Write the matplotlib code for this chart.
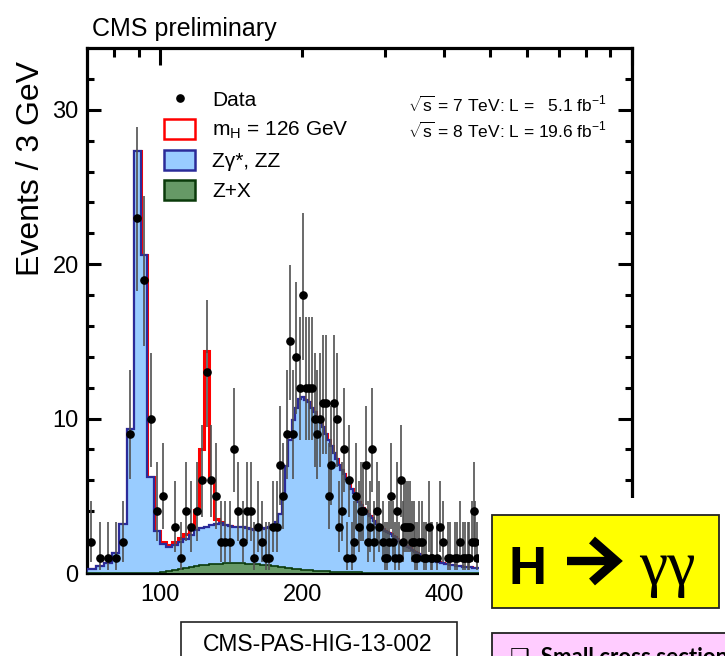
import numpy as np
import matplotlib
matplotlib.use('Agg')
import matplotlib.pyplot as plt
from matplotlib import font_manager as fm
from matplotlib.patches import Rectangle, Patch
from matplotlib.lines import Line2D
from matplotlib.ticker import FixedLocator, FuncFormatter, NullFormatter

# ---------------- data ----------------
bin_low = 70
bin_high = 478
bin_width = 3
mass_edges = np.arange(bin_low, bin_high + 1, bin_width)

data_counts = [
    2, 1, 1, 1, 2, 9, 23, 19, 10, 4,
    5, 0, 3, 1, 4, 3, 4, 6, 13, 6,
    5, 2, 2, 2, 8, 4, 2, 4, 4, 1,
    3, 2, 1, 1, 3, 3, 7, 5, 9, 15,
    9, 14, 12, 18, 12, 12, 12, 10, 9, 10,
    11, 11, 5, 7, 11, 10, 3, 4, 8, 1,
    6, 1, 2, 5, 3, 4, 4, 7, 2, 3,
    8, 2, 4, 3, 0, 2, 1, 1, 2, 5,
    2, 1, 4, 1, 6, 2, 3, 3, 3, 3,
    2, 2, 1, 1, 2, 0, 2, 1, 1, 0,
    3, 1, 1, 0, 0, 1, 0, 3, 0, 2,
    0, 0, 1, 1, 0, 0, 0, 1, 1, 0,
    2, 0, 1, 0, 1, 0, 1, 1, 0, 2,
    4, 2, 0, 1, 0, 0,
]

bkg_total = [
    0.28, 0.45, 0.65, 1.3, 3.2, 9.3, 27.3, 20.6, 6.2, 2.7,
    1.9, 1.7, 1.8, 2.0, 2.2, 2.45, 2.8, 2.9, 3.0, 3.1,
    3.2, 3.25, 3.1, 3.05, 3.0, 3.0, 2.95, 2.9, 2.85, 2.8,
    2.8, 2.85, 2.9, 2.95, 3.1, 3.3, 3.85, 4.9, 6.9, 8.6,
    9.9, 10.7, 11.3, 11.4, 11.2, 11.05, 10.7, 10.4, 10.1, 9.9,
    9.45, 9.0, 8.6, 8.2, 7.8, 7.4, 7.0, 6.65, 6.4, 6.1,
    5.8, 5.45, 5.2, 4.9, 4.6, 4.4, 4.2, 4.0, 3.85, 3.7,
    3.55, 3.4, 3.2, 3.1, 2.95, 2.85, 2.75, 2.65, 2.58, 2.5,
    2.4, 2.3, 2.2, 2.1, 2.0, 1.92, 1.84, 1.76, 1.68, 1.6,
    1.52, 1.45, 1.38, 1.31, 1.25, 1.19, 1.13, 1.07, 1.02, 0.97,
    0.93, 0.89, 0.85, 0.81, 0.77, 0.74, 0.71, 0.68, 0.66, 0.63,
    0.61, 0.59, 0.57, 0.55, 0.53, 0.51, 0.5, 0.48, 0.47, 0.46,
    0.44, 0.43, 0.42, 0.41, 0.4, 0.39, 0.38, 0.37, 0.36, 0.35,
    0.34, 0.33, 0.32, 0.31, 0.31, 0.3,
]

zx_bkg = [
    0, 0, 0, 0, 0, 0, 0, 0, 0, 0.02,
    0.05, 0.1, 0.17, 0.24, 0.31, 0.38, 0.44, 0.49, 0.53, 0.56,
    0.59, 0.61, 0.62, 0.63, 0.63, 0.63, 0.62, 0.61, 0.6, 0.58,
    0.56, 0.54, 0.52, 0.49, 0.46, 0.43, 0.4, 0.37, 0.34, 0.31,
    0.28, 0.26, 0.24, 0.22, 0.2, 0.18, 0.17, 0.15, 0.14, 0.13,
    0.12, 0.11, 0.1, 0.09, 0.08, 0.08, 0.07, 0.06, 0.06, 0.05,
    0.05, 0.05, 0.04, 0.04, 0.04, 0.04, 0.03, 0.03, 0.03, 0.03,
    0.03, 0.03, 0.02, 0.02, 0.02, 0.02, 0.02, 0.02, 0.02, 0.02,
    0.02, 0.02, 0.02, 0.02, 0.02, 0.01, 0.01, 0.01, 0.01, 0.01,
    0.01, 0.01, 0.01, 0.01, 0.01, 0.01, 0.01, 0.01, 0.01, 0.01,
    0.01, 0.01, 0.01, 0.01, 0.01, 0.01, 0.01, 0.01, 0.01, 0.01,
    0.01, 0.01, 0.01, 0.01, 0.01, 0.01, 0.01, 0.01, 0.01, 0.01,
    0.01, 0.01, 0.01, 0.01, 0.01, 0.01, 0.01, 0.01, 0.01, 0.01,
    0.01, 0.01, 0.01, 0.01, 0.01, 0.01,
]

higgs_126 = [0.0] * 136
higgs_bins = {97: 0.03, 100: 0.08, 103: 0.12, 106: 0.18, 109: 0.27, 112: 0.35,
              115: 0.45, 118: 1.3, 121: 5.1, 124: 11.4, 127: 2.9, 130: 0.3, 133: 0.05}
for lo, v in higgs_bins.items():
    higgs_126[(lo - bin_low) // bin_width] = v

assert len(data_counts) == len(mass_edges) - 1
assert len(bkg_total) == len(mass_edges) - 1
assert len(zx_bkg) == len(mass_edges) - 1

x_tick_labels = ['100', '200', '400']
y_major_ticks = [0, 10, 20, 30]

# ---------------- fonts ----------------
def has_font(name):
    try:
        fm.findfont(fm.FontProperties(family=name), fallback_to_default=False)
        return True
    except Exception:
        return False

SANS = 'Liberation Sans' if has_font('Liberation Sans') else 'DejaVu Sans'
plt.rcParams['font.family'] = [SANS, 'DejaVu Sans']
plt.rcParams['mathtext.fontset'] = 'custom'
plt.rcParams['mathtext.rm'] = SANS
plt.rcParams['mathtext.it'] = SANS + ':italic'

# ---------------- figure ----------------
W, H = 725, 656
fig = plt.figure(figsize=(W / 100, H / 100), dpi=100)
fig.patch.set_facecolor('white')

ax_l, ax_r, ax_t, ax_b = 87, 632, 48, 573
ax = fig.add_axes([ax_l / W, 1 - ax_b / H, (ax_r - ax_l) / W, (ax_b - ax_t) / H])

edges = mass_edges
bkg = np.array(bkg_total)
zx = np.array(zx_bkg)
hig = np.array(higgs_126)
cnt = np.array(data_counts, dtype=float)

# red (signal + bkg) outline
ax.stairs(bkg + hig, edges, baseline=0, fill=False, color='#ff0000', lw=2.2, zorder=2)
# blue (Zgamma*, ZZ) stacked total
ax.stairs(bkg, edges, baseline=0, fill=True, facecolor='#99ccff', edgecolor='none', zorder=3)
ax.stairs(bkg, edges, baseline=0, fill=False, color='#2b2b99', lw=1.6, zorder=4)
# green Z+X
ax.stairs(zx, edges, baseline=0, fill=True, facecolor='#669966', edgecolor='none', zorder=5)
ax.stairs(zx, edges, baseline=0, fill=False, color='#0a3a0a', lw=1.2, zorder=5)

# data points with Poisson (Gehrels) errors
centers = 0.5 * (edges[:-1] + edges[1:])
m = cnt > 0
n = cnt[m]
err_up = 1.0 + np.sqrt(n + 0.75)
err_lo = n - n * (1 - 1 / (9 * n) - 1 / (3 * np.sqrt(n))) ** 3
ax.errorbar(centers[m], n, yerr=[err_lo, err_up], fmt='o', color='black', ms=5.2,
            ecolor='#505050', elinewidth=1.2, capsize=0, zorder=6)

ax.set_xscale('log')
ax.set_xlim(70, 1000)
ax.set_ylim(0, 34)

ax.xaxis.set_major_locator(FixedLocator([100, 1000]))
ax.xaxis.set_minor_locator(FixedLocator([80, 90, 200, 300, 400, 500, 600, 700, 800, 900]))
ax.xaxis.set_major_formatter(FuncFormatter(lambda v, p: '100' if abs(v - 100) < 1 else ''))
lbl = {200: '200', 400: '400'}
ax.xaxis.set_minor_formatter(FuncFormatter(lambda v, p: lbl.get(int(round(v)), '')))
ax.yaxis.set_major_locator(FixedLocator(y_major_ticks))
ax.yaxis.set_minor_locator(FixedLocator(list(range(2, 34, 2))))
ax.yaxis.set_minor_formatter(NullFormatter())

for s in ax.spines.values():
    s.set_linewidth(2.3)
ax.tick_params(which='both', direction='in', top=True, right=True, width=2.2, color='black')
ax.tick_params(axis='x', which='major', length=12, labelsize=17, pad=8)
ax.tick_params(axis='x', which='minor', length=6.5, labelsize=17, pad=8)
ax.tick_params(axis='y', which='major', length=10, labelsize=17, pad=6)
ax.tick_params(axis='y', which='minor', length=5)

# legend
handles = [
    Line2D([], [], marker='o', color='black', ls='none', ms=5.2),
    Patch(facecolor='white', edgecolor='#ff0000', lw=1.8),
    Patch(facecolor='#99ccff', edgecolor='#2b2b99', lw=1.8),
    Patch(facecolor='#669966', edgecolor='#0a3a0a', lw=1.8),
]
labels = ['Data', r'm$_\mathregular{H}$ = 126 GeV', 'Z\u03b3*, ZZ', 'Z+X']
leg = ax.legend(handles, labels, loc='upper left',
                bbox_to_anchor=((164 - ax_l) / (ax_r - ax_l), (ax_b - 89) / (ax_b - ax_t)),
                frameon=False, fontsize=15, borderpad=0, borderaxespad=0,
                handlelength=1.5, handleheight=1.1, handletextpad=0.8, labelspacing=0.42)
leg.set_zorder(10)

# energy / lumi text
ax.text((408 - ax_l) / (ax_r - ax_l), (ax_b - 105) / (ax_b - ax_t),
        r'$\sqrt{\mathregular{s}}$ = 7 TeV: L =   5.1 fb$^{-1}$', transform=ax.transAxes,
        fontsize=12.5, ha='left', va='center')
ax.text((408 - ax_l) / (ax_r - ax_l), (ax_b - 131) / (ax_b - ax_t),
        r'$\sqrt{\mathregular{s}}$ = 8 TeV: L = 19.6 fb$^{-1}$', transform=ax.transAxes,
        fontsize=12.5, ha='left', va='center')

# titles
fig.text(92 / W, 1 - 36 / H, 'CMS preliminary', fontsize=18, ha='left', va='baseline')
fig.text(31 / W, 1 - 168 / H, 'Events / 3 GeV', fontsize=23, rotation=90,
         ha='center', va='center')

# ---------------- slide overlays ----------------
fig.patches.append(Rectangle((479 / W, -0.01), 1, (656 - 498) / H + 0.01,
                             transform=fig.transFigure, facecolor='white',
                             edgecolor='none', zorder=20))
fig.patches.append(Rectangle((181 / W, -0.02), (457 - 181) / W, (656 - 622) / H + 0.02,
                             transform=fig.transFigure, facecolor='white',
                             edgecolor='#222222', lw=1.2, zorder=21))
fig.text(318 / W, 1 - 651 / H, 'CMS-PAS-HIG-13-002', fontsize=16.5, ha='center',
         va='baseline', zorder=22)

fig.patches.append(Rectangle((492 / W, 1 - 608 / H), (719 - 492) / W, (608 - 515) / H,
                             transform=fig.transFigure, facecolor='#ffff00',
                             edgecolor='#222222', lw=1.3, zorder=21))
fig.text(527 / W, 1 - 584 / H, 'H', fontsize=38, fontweight='bold', ha='center',
         va='baseline', zorder=22)
# thick arrow (shaft + chevron head)
fig.add_artist(Line2D([567 / W, 612 / W], [1 - 561 / H, 1 - 561 / H],
                      transform=fig.transFigure, color='black', lw=6,
                      solid_capstyle='butt', zorder=22))
fig.add_artist(Line2D([592 / W, 616 / W, 592 / W], [1 - 540 / H, 1 - 561 / H, 1 - 582 / H],
                      transform=fig.transFigure, color='black', lw=6.5,
                      solid_joinstyle='miter', solid_capstyle='butt', zorder=22))
fig.text(667 / W, 1 - 584 / H, '\u03b3\u03b3', fontsize=46, ha='center',
         va='baseline', family=['Liberation Serif', 'DejaVu Serif'], zorder=22)

fig.patches.append(Rectangle((492 / W, -0.05), 0.5, (656 - 633) / H + 0.05,
                             transform=fig.transFigure, facecolor='#ffccff',
                             edgecolor='#222222', lw=1.3, zorder=21))
fig.text(510 / W, 1 - 647 / H, '\u2751  Small cross section', fontsize=16,
         fontweight='bold', ha='left', va='top', family=['Lato', 'DejaVu Sans'], zorder=22)

fig.savefig('out.png', dpi=100, facecolor='white')
